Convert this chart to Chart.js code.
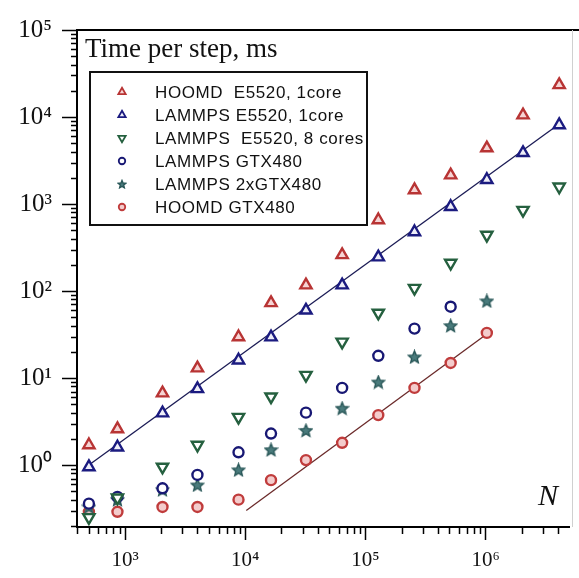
<!DOCTYPE html>
<html>
<head>
<meta charset="utf-8">
<script src="https://cdn.jsdelivr.net/npm/chart.js"></script>
<style>
  html, body { margin: 0; padding: 0; background: #fff; overflow: hidden; }
</style>
</head>
<body>
<canvas id="chart" width="579" height="578"></canvas>
<script>
// system size N
const nValues = [500, 864, 2048, 4000, 8788, 16384, 32000, 64000, 128000, 256000, 512000, 1024000, 2048000, 4096000];

// time per step, ms
const hoomdCpu = [1.7, 2.6, 6.7, 13, 29.6, 73, 117, 260, 655, 1450, 2150, 4400, 10500, 23400];
const lammpsCpu = [0.95, 1.6, 3.95, 7.5, 16, 29.5, 60, 117, 245, 477, 930, 1900, 3880, 8100];
const lammpsCpu8 = [0.25, 0.42, 0.95, 1.7, 3.55, 6.1, 10.8, 26, 56, 108, 210, 440, 850, 1580];
const lammpsGpu = [0.36, 0.43, 0.54, 0.77, 1.4, 2.3, 4.0, 7.7, 18, 37, 66];
const lammps2Gpu = [0.33, 0.40, 0.52, 0.59, 0.88, 1.5, 2.5, 4.5, 9, 17.5, 40, 77];
const hoomdGpu = [0.29, 0.29, 0.33, 0.33, 0.4, 0.67, 1.14, 1.8, 3.75, 7.7, 14.9, 33];

// fitted lines (end points)
const lammpsCpuFitX = [500, 4096000];
const lammpsCpuFitY = [1.0, 8300];
const hoomdGpuFitX = [10200, 1024000];
const hoomdGpuFitY = [0.30, 32];

const seriesLabels = [
    'HOOMD  E5520, 1core',
    'LAMMPS E5520, 1core',
    'LAMMPS  E5520, 8 cores',
    'LAMMPS GTX480',
    'LAMMPS 2xGTX480',
    'HOOMD GTX480'
];

const xTicks = [1e3, 1e4, 1e5, 1e6];
const yTicks = [1e0, 1e1, 1e2, 1e3, 1e4, 1e5];

const sup = { '0': '\u2070', '1': '\u00b9', '2': '\u00b2', '3': '\u00b3', '4': '\u2074', '5': '\u2075', '6': '\u2076' };

function toPoints(xs, ys) {
    return ys.map((v, i) => ({ x: xs[i], y: v }));
}

function makeStar(size, fill, stroke) {
    const c = document.createElement('canvas');
    c.width = c.height = size;
    const g = c.getContext('2d');
    const r = size / 2 - 1, ri = r * 0.45, cx = size / 2, cy = size / 2 + 0.5;
    g.beginPath();
    for (let i = 0; i < 10; i++) {
        const rr = i % 2 ? ri : r;
        const ang = -Math.PI / 2 + i * Math.PI / 5;
        g.lineTo(cx + rr * Math.cos(ang), cy + rr * Math.sin(ang));
    }
    g.closePath();
    g.fillStyle = fill;
    g.fill();
    g.strokeStyle = stroke;
    g.lineWidth = 1.4;
    g.stroke();
    return c;
}

const starBig = makeStar(15, '#4a7b7c', '#2a5859');
const starSmall = makeStar(10, '#4a7b7c', '#2a5859');

function marker(label, data, style, color, fill, radius, rotation, legendStyle) {
    return {
        type: 'scatter',
        label,
        data: toPoints(nValues, data),
        pointStyle: style,
        legendStyle: legendStyle || style,
        pointRadius: radius,
        pointHoverRadius: radius,
        pointRotation: rotation || 0,
        borderColor: color,
        backgroundColor: fill,
        pointBorderWidth: 2.4,
        showLine: false
    };
}

function fitLine(xs, ys, color) {
    return {
        type: 'line',
        label: '',
        data: toPoints(xs, ys),
        borderColor: color,
        borderWidth: 1.3,
        pointRadius: 0,
        fill: false,
        tension: 0
    };
}

const datasets = [
    marker(seriesLabels[0], hoomdCpu, 'triangle', '#b83434', '#f6d4d4', 6.5),
    marker(seriesLabels[1], lammpsCpu, 'triangle', '#1b1b80', '#eeeef8', 6.5),
    marker(seriesLabels[2], lammpsCpu8, 'triangle', '#25603f', '#ffffff', 6.5, 180),
    marker(seriesLabels[3], lammpsGpu, 'circle', '#181874', '#ffffff', 5),
    marker(seriesLabels[4], lammps2Gpu, starBig, '#2a5859', '#4a7b7c', 7, 0, starSmall),
    marker(seriesLabels[5], hoomdGpu, 'circle', '#c03c3c', '#f4cccc', 5),
    fitLine(lammpsCpuFitX, lammpsCpuFitY, '#1b1b55'),
    fitLine(hoomdGpuFitX, hoomdGpuFitY, '#6b2a2a')
];

// minor ticks, top frame, title, legend box and the N label
const decor = {
    id: 'decor',
    afterDraw(chart) {
        const { ctx, chartArea: a, scales: { x, y } } = chart;
        ctx.save();

        ctx.strokeStyle = '#000';
        ctx.lineWidth = 1.5;
        ctx.beginPath();
        for (let e = -1; e <= 6; e++) {
            for (let k = 2; k <= 9; k++) {
                const v = k * Math.pow(10, e);
                if (v > y.min && v < y.max) {
                    const py = Math.round(y.getPixelForValue(v)) + 0.5;
                    ctx.moveTo(a.left - 6, py);
                    ctx.lineTo(a.left, py);
                }
                if (v > x.min && v < x.max) {
                    const px = Math.round(x.getPixelForValue(v)) + 0.5;
                    ctx.moveTo(px, a.bottom);
                    ctx.lineTo(px, a.bottom + 7);
                }
            }
        }
        ctx.stroke();

        // frame
        ctx.lineWidth = 2;
        ctx.beginPath();
        ctx.moveTo(a.left, a.top);
        ctx.lineTo(chart.width, a.top);
        ctx.stroke();
        ctx.strokeStyle = '#d0d0d0';
        ctx.lineWidth = 1;
        ctx.beginPath();
        ctx.moveTo(572.5, a.top);
        ctx.lineTo(572.5, a.bottom);
        ctx.stroke();

        // axis titles
        ctx.fillStyle = '#111';
        ctx.font = '27px "Liberation Serif", serif';
        ctx.textAlign = 'left';
        ctx.textBaseline = 'alphabetic';
        ctx.fillText('Time per step, ms', 85, 57);

        ctx.font = 'italic 30px "Liberation Serif", serif';
        ctx.textAlign = 'center';
        ctx.textBaseline = 'middle';
        ctx.fillText('N', 548, 497);

        // legend
        ctx.strokeStyle = '#111';
        ctx.lineWidth = 2;
        ctx.strokeRect(90, 72, 277, 153);
        ctx.font = '17px "Liberation Sans", sans-serif';
        if ('letterSpacing' in ctx) ctx.letterSpacing = '0.6px';
        ctx.textAlign = 'left';
        chart.data.datasets.filter(d => d.type === 'scatter').forEach((d, i) => {
            const rowY = 92 + i * 23;
            ctx.fillStyle = d.backgroundColor;
            ctx.strokeStyle = d.borderColor;
            ctx.lineWidth = 1.8;
            Chart.helpers.drawPoint(ctx, {
                pointStyle: d.legendStyle,
                radius: d.pointRadius * 0.65,
                rotation: d.pointRotation,
                borderWidth: 1.8
            }, 122, rowY);
            ctx.fillStyle = '#111';
            ctx.fillText(d.label, 155, rowY + 1);
        });

        ctx.restore();
    }
};

const ctx = document.getElementById('chart').getContext('2d');
new Chart(ctx, {
    type: 'scatter',
    data: { datasets },
    plugins: [decor],
    options: {
        responsive: false,
        animation: false,
        layout: { padding: { top: 30, right: 1, left: 0, bottom: 0 } },
        plugins: {
            legend: { display: false },
            tooltip: { enabled: false }
        },
        scales: {
            x: {
                type: 'logarithmic',
                min: 398,
                max: 5e6,
                afterBuildTicks: scale => { scale.ticks = xTicks.map(v => ({ value: v })); },
                afterFit: scale => { scale.height = 51; },
                border: { color: '#000', width: 2 },
                grid: { drawOnChartArea: false, tickLength: 13, tickWidth: 1.5, tickColor: '#000' },
                ticks: {
                    autoSkip: false,
                    maxRotation: 0,
                    padding: 8,
                    color: '#111',
                    font: { family: '"Liberation Serif", serif', size: 21 },
                    callback: v => '10' + sup[Math.round(Math.log10(v))]
                }
            },
            y: {
                type: 'logarithmic',
                min: 0.194,
                max: 1e5,
                afterBuildTicks: scale => { scale.ticks = yTicks.map(v => ({ value: v })); },
                afterFit: scale => { scale.width = 77; },
                border: { color: '#000', width: 2 },
                grid: { drawOnChartArea: false, tickLength: 15, tickWidth: 1.5, tickColor: '#000' },
                ticks: {
                    autoSkip: false,
                    padding: 10,
                    color: '#111',
                    font: { family: '"Liberation Serif", serif', size: 25 },
                    callback: v => '10' + sup[Math.round(Math.log10(v))]
                }
            }
        }
    }
});
</script>
</body>
</html>
